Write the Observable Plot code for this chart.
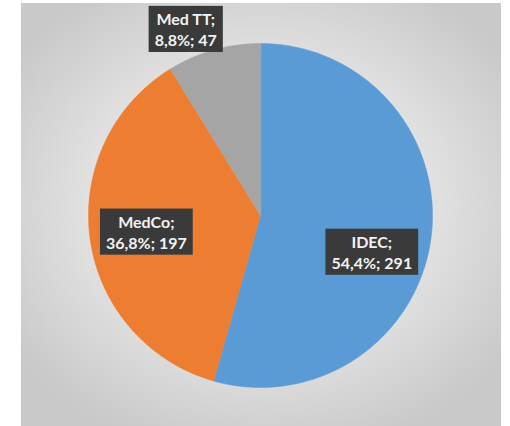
<!DOCTYPE html>
<html>
<head>
<meta charset="utf-8">
<script src="https://cdn.jsdelivr.net/npm/d3@7"></script>
<script src="https://cdn.jsdelivr.net/npm/@observablehq/plot@0.6"></script>
<style>
  html, body { margin: 0; padding: 0; background: #ffffff; }
  #wrap { position: relative; width: 510px; height: 426px; overflow: hidden; }
  #bg {
    position: absolute; left: 21px; top: 3px; width: 480px; height: 423px;
    background: radial-gradient(ellipse 62% 60% at 50% 48%, #f6f6f6 0%, #eeeeee 35%, #dadada 70%, #c9c9c9 100%);
  }
  #chart { position: absolute; left: 0; top: 0; }
</style>
</head>
<body>
<div id="wrap"><div id="bg"></div><div id="chart"></div></div>
<script>
const categories = ["IDEC", "MedCo", "Med TT"];
const counts = [291, 197, 47];
const colors = ["#5b9bd5", "#ed7d31", "#a5a5a5"];
// label placement (layout, in fractions of radius / degrees)
const labelRadius = [0.68, 0.67, 1.17];
const labelAngleShift = [10, 0, -6];

const total = d3.sum(counts);
const pct = counts.map(c => (100 * c / total).toFixed(1).replace(".", ","));

// build wedge polygons in unit-circle coordinates (clockwise from 12 o'clock)
const wedges = [];
const labels = [];
let acc = 0;
categories.forEach((cat, i) => {
  const a0 = acc / total * 2 * Math.PI;
  acc += counts[i];
  const a1 = acc / total * 2 * Math.PI;
  wedges.push({cat, x: 0, y: 0});
  const n = Math.max(2, Math.ceil((a1 - a0) / (Math.PI / 360)));
  for (let k = 0; k <= n; k++) {
    const a = a0 + (a1 - a0) * k / n;
    wedges.push({cat, x: Math.sin(a), y: Math.cos(a)});
  }
  const am = (a0 + a1) / 2 + labelAngleShift[i] * Math.PI / 180;
  labels.push({
    cat,
    x: labelRadius[i] * Math.sin(am),
    y: labelRadius[i] * Math.cos(am),
    text: `${cat};\n${pct[i]}%; ${counts[i]}`
  });
});

const plot = Plot.plot({
  width: 510,
  height: 426,
  marginLeft: 88,
  marginRight: 78,
  marginTop: 43,
  marginBottom: 39,
  x: {domain: [-1, 1], axis: null},
  y: {domain: [-1, 1], axis: null},
  color: {domain: categories, range: colors},
  style: {background: "transparent", overflow: "visible"},
  marks: [
    Plot.line(wedges, {
      x: "x", y: "y", z: "cat", fill: "cat",
      stroke: "cat", strokeWidth: 0.5, curve: "linear-closed"
    }),
    Plot.text(labels, {
      x: "x", y: "y", text: "text",
      fill: "#f2f2f2",
      fontSize: 16,
      fontWeight: "bold",
      fontFamily: "Lato, 'Open Sans', sans-serif",
      lineHeight: 1.32
    })
  ]
});

document.getElementById("chart").appendChild(plot);

// dark label boxes behind text
d3.select(plot).selectAll("g[aria-label='text'] text").each(function() {
  const b = this.getBBox();
  const padX = 6, padY = 3;
  d3.select(this.parentNode).insert("rect", () => this)
    .attr("x", b.x - padX)
    .attr("y", b.y - padY)
    .attr("width", b.width + 2 * padX)
    .attr("height", b.height + 2 * padY)
    .attr("fill", "#3a3a3a")
    .attr("transform", this.getAttribute("transform"));
});
</script>
</body>
</html>
